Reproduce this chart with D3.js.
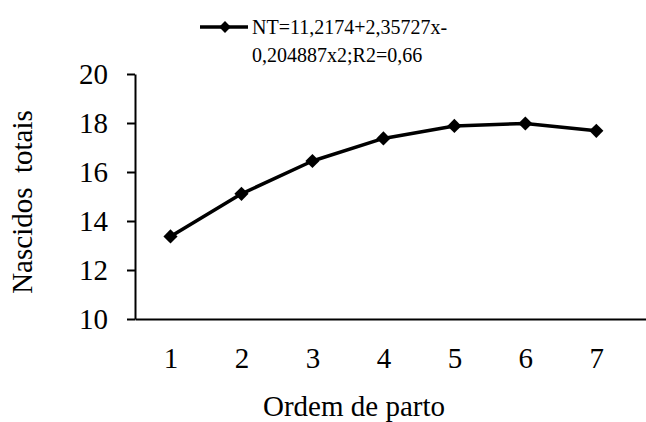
<!DOCTYPE html>
<html>
<head>
<meta charset="utf-8">
<script src="https://cdn.jsdelivr.net/npm/d3@7"></script>
<style>
body { margin: 0; background: #fff; }
</style>
</head>
<body>
<svg id="chart" width="646" height="422"></svg>
<script>
// data
var ordem = [1, 2, 3, 4, 5, 6, 7];
var nascidos = [13.37, 15.11, 16.45, 17.37, 17.88, 17.98, 17.68];
var yTicks = [10, 12, 14, 16, 18, 20];
var legendLines = ["NT=11,2174+2,35727x-", "0,204887x2;R2=0,66"];

var serif = "'Liberation Serif', 'Times New Roman', Times, serif";

var svg = d3.select("#chart");

// x axis runs off the right edge of the picture
var x = d3.scaleLinear().domain([0.5, 7.7]).range([135, 646]);
var y = d3.scaleLinear().domain([10, 20]).range([319, 74]);

// y axis
var yAxis = svg.append("g")
    .attr("transform", "translate(135,0)")
    .call(d3.axisLeft(y).tickValues(yTicks).tickFormat(d3.format("d"))
        .tickSize(8).tickPadding(19).tickSizeOuter(0));
yAxis.attr("font-family", serif);
yAxis.select(".domain").attr("stroke", "#000").attr("stroke-width", 2);
yAxis.selectAll(".tick line").attr("stroke-width", 2);
yAxis.selectAll("text").style("font-size", "29px").style("font-family", serif).attr("fill", "#000");

// x axis
var xAxis = svg.append("g")
    .attr("transform", "translate(0,319)")
    .call(d3.axisBottom(x).tickValues(ordem).tickFormat(d3.format("d"))
        .tickSize(0).tickPadding(28).tickSizeOuter(0));
xAxis.attr("font-family", serif);
xAxis.select(".domain").attr("stroke", "#000").attr("stroke-width", 2);
xAxis.selectAll("text").style("font-size", "29px").style("font-family", serif).attr("fill", "#000");

// axis titles
svg.append("text")
    .attr("x", 354).attr("y", 416)
    .attr("text-anchor", "middle")
    .style("font-family", serif)
    .style("font-size", "29px")
    .text("Ordem de parto");

svg.append("text")
    .attr("transform", "translate(32,202) rotate(-90)")
    .attr("text-anchor", "middle")
    .style("font-family", serif)
    .style("font-size", "29px")
    .style("white-space", "pre")
    .text("Nascidos  totais");

// line + markers
var line = d3.line()
    .x(function(d, i) { return x(ordem[i]); })
    .y(function(d) { return y(d); });

svg.append("path")
    .datum(nascidos)
    .attr("d", line)
    .attr("fill", "none")
    .attr("stroke", "#000")
    .attr("stroke-width", 3.5)
    .attr("stroke-linejoin", "round");

var marker = d3.symbol().type(d3.symbolSquare).size(100);

svg.selectAll(".pt")
    .data(nascidos)
    .enter().append("path")
    .attr("class", "pt")
    .attr("transform", function(d, i) {
        return "translate(" + x(ordem[i]) + "," + y(d) + ") rotate(45)";
    })
    .attr("d", marker)
    .attr("fill", "#000");

// legend
var leg = svg.append("g");
leg.append("line")
    .attr("x1", 200).attr("x2", 248)
    .attr("y1", 27).attr("y2", 27)
    .attr("stroke", "#000").attr("stroke-width", 3.5);
leg.append("path")
    .attr("transform", "translate(225,27) rotate(45)")
    .attr("d", d3.symbol().type(d3.symbolSquare).size(70))
    .attr("fill", "#000");
leg.selectAll(".lt")
    .data(legendLines)
    .enter().append("text")
    .attr("class", "lt")
    .attr("x", 252)
    .attr("y", function(d, i) { return 34 + i * 28; })
    .style("font-family", serif)
    .style("font-size", "20px")
    .text(function(d) { return d; });
</script>
</body>
</html>
